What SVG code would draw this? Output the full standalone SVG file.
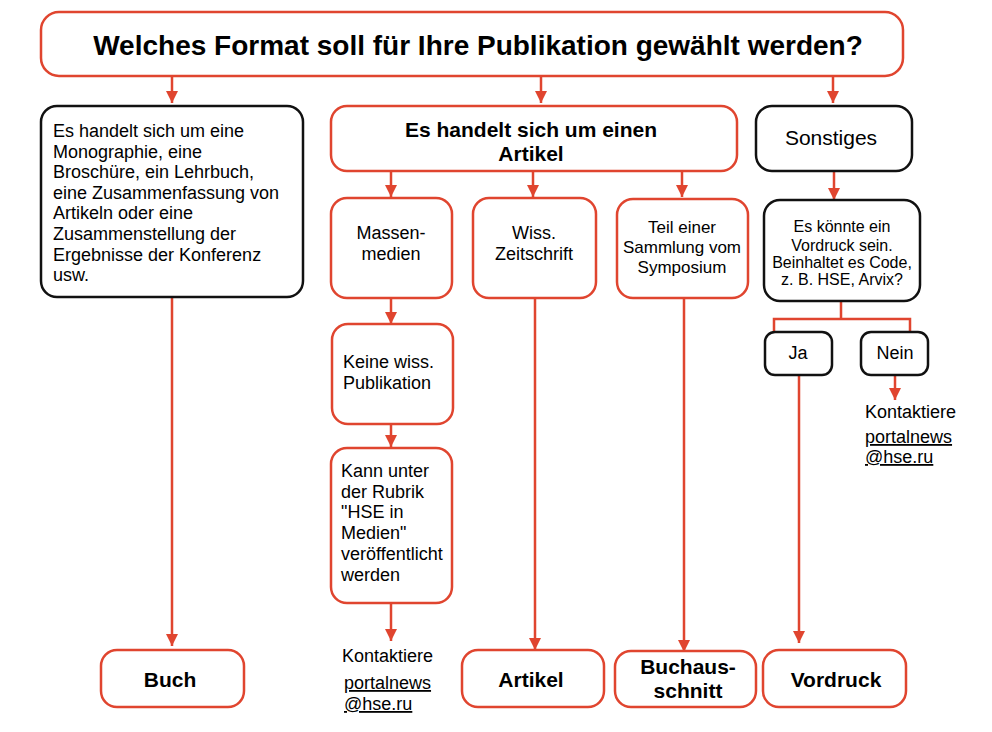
<svg xmlns="http://www.w3.org/2000/svg" width="992" height="732" viewBox="0 0 992 732">
<defs>
<marker id="arr" viewBox="0 0 12 12" refX="12" refY="6" markerWidth="12" markerHeight="12" markerUnits="userSpaceOnUse" orient="auto">
<path d="M0,0 L12,6 L0,12 Z" fill="#e0452f"/>
</marker>
<style>
.r{fill:#fff;stroke:#e0452f;stroke-width:2.5}
.k{fill:#fff;stroke:#111;stroke-width:2.5}
.c{fill:none;stroke:#e0452f;stroke-width:2.5}
text{font-family:"Liberation Sans",Arial,sans-serif;fill:#000}
.t{font-size:18px}
.s{font-size:17px}
.q{font-size:16px}
.b{font-size:21px;font-weight:bold}
.m{text-anchor:middle}
.u{text-decoration:underline}
</style>
</defs>
<rect width="992" height="732" fill="#fff"/>
<g id="connectors">
<path class="c" d="M172,76 V103" marker-end="url(#arr)"/>
<path class="c" d="M541,76 V103" marker-end="url(#arr)"/>
<path class="c" d="M833,76 V103" marker-end="url(#arr)"/>
<path class="c" d="M172,297 V646" marker-end="url(#arr)"/>
<path class="c" d="M391,171 V197" marker-end="url(#arr)"/>
<path class="c" d="M533,171 V197" marker-end="url(#arr)"/>
<path class="c" d="M682,171 V197" marker-end="url(#arr)"/>
<path class="c" d="M391,298 V324" marker-end="url(#arr)"/>
<path class="c" d="M391,424 V447" marker-end="url(#arr)"/>
<path class="c" d="M391,603 V641" marker-end="url(#arr)"/>
<path class="c" d="M535,298 V650" marker-end="url(#arr)"/>
<path class="c" d="M684,298 V652" marker-end="url(#arr)"/>
<path class="c" d="M834,171 V200" marker-end="url(#arr)"/>
<path class="c" d="M841,302 V319 M774,333 V319 H910 V333"/>
<path class="c" d="M799,375 V643" marker-end="url(#arr)"/>
<path class="c" d="M895,375 V400" marker-end="url(#arr)"/>
</g>
<g id="title">
<rect class="r" x="41" y="12" width="862" height="64" rx="18"/>
<text class="m" x="478" y="55" style="font-size:28px;font-weight:bold">Welches Format soll für Ihre Publikation gewählt werden?</text>
</g>
<g id="buch-frage">
<rect class="k" x="41" y="106" width="262" height="191" rx="16"/>
<text class="t" x="53" y="137">Es handelt sich um eine</text>
<text class="t" x="53" y="157.6">Monographie, eine</text>
<text class="t" x="53" y="178.2">Broschüre, ein Lehrbuch,</text>
<text class="t" x="53" y="198.8">eine Zusammenfassung von</text>
<text class="t" x="53" y="219.4">Artikeln oder eine</text>
<text class="t" x="53" y="240">Zusammenstellung der</text>
<text class="t" x="53" y="260.6">Ergebnisse der Konferenz</text>
<text class="t" x="53" y="281.2">usw.</text>
</g>
<g id="artikel-frage">
<rect class="r" x="331" y="106" width="406" height="65" rx="16"/>
<text class="b m" x="531" y="137">Es handelt sich um einen</text>
<text class="b m" x="531" y="161">Artikel</text>
</g>
<g id="sonstiges">
<rect class="k" x="756" y="106" width="156" height="65" rx="16"/>
<text class="m" x="831" y="145" style="font-size:21px">Sonstiges</text>
</g>
<g id="massenmedien">
<rect class="r" x="331" y="198" width="121" height="100" rx="16"/>
<text class="t m" x="391" y="239">Massen-</text>
<text class="t m" x="391" y="260">medien</text>
</g>
<g id="zeitschrift">
<rect class="r" x="473" y="198" width="123" height="100" rx="16"/>
<text class="t m" x="534" y="239">Wiss.</text>
<text class="t m" x="534" y="260">Zeitschrift</text>
</g>
<g id="symposium">
<rect class="r" x="617" y="199" width="131" height="99" rx="16"/>
<text class="s m" x="682" y="233">Teil einer</text>
<text class="s m" x="682" y="253">Sammlung vom</text>
<text class="s m" x="682" y="273">Symposium</text>
</g>
<g id="vordruck-frage">
<rect class="k" x="764" y="200" width="156" height="101" rx="16"/>
<text class="q m" x="842" y="232">Es könnte ein</text>
<text class="q m" x="842" y="250.5">Vordruck sein.</text>
<text class="q m" x="842" y="267.5">Beinhaltet es Code,</text>
<text class="q m" x="842" y="285">z. B. HSE, Arvix?</text>
</g>
<g id="ja">
<rect class="k" x="765" y="332" width="67" height="43" rx="10"/>
<text class="t m" x="798" y="359">Ja</text>
</g>
<g id="nein">
<rect class="k" x="861" y="332" width="67" height="43" rx="10"/>
<text class="t m" x="895" y="359">Nein</text>
</g>
<g id="kontakt-nein">
<text class="t" x="865" y="418">Kontaktiere</text>
<text class="t u" x="865" y="443">portalnews</text>
<text class="t u" x="865" y="463">@hse.ru</text>
</g>
<g id="keine-wiss">
<rect class="r" x="332" y="324" width="121" height="100" rx="16"/>
<text class="t" x="343" y="368">Keine wiss.</text>
<text class="t" x="343" y="389">Publikation</text>
</g>
<g id="hse-medien">
<rect class="r" x="331" y="448" width="121" height="155" rx="16"/>
<text class="t" x="341" y="477">Kann unter</text>
<text class="t" x="341" y="497.7">der Rubrik</text>
<text class="t" x="341" y="518.4">"HSE in</text>
<text class="t" x="341" y="539">Medien"</text>
<text class="t" x="341" y="560">veröffentlicht</text>
<text class="t" x="341" y="580.7">werden</text>
</g>
<g id="kontakt-medien">
<text class="t" x="342" y="662">Kontaktiere</text>
<text class="t u" x="344" y="689">portalnews</text>
<text class="t u" x="344" y="710">@hse.ru</text>
</g>
<g id="buch">
<rect class="r" x="101" y="650" width="143" height="57" rx="16"/>
<text class="b m" x="170" y="687">Buch</text>
</g>
<g id="artikel">
<rect class="r" x="462" y="650" width="142" height="57" rx="16"/>
<text class="b m" x="531" y="687">Artikel</text>
</g>
<g id="buchausschnitt">
<rect class="r" x="615" y="651" width="141" height="56" rx="16"/>
<text class="b m" x="688" y="674">Buchaus-</text>
<text class="b m" x="688" y="698">schnitt</text>
</g>
<g id="vordruck">
<rect class="r" x="763" y="650" width="143" height="57" rx="16"/>
<text class="b m" x="836" y="687">Vordruck</text>
</g>
</svg>
